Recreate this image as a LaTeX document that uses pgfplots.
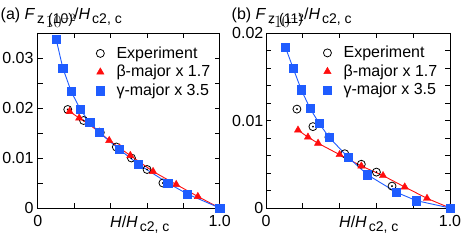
\documentclass[border=0pt]{standalone}
\usepackage{fontspec}
\setmainfont{Liberation Sans}
\usepackage{pgfplots}
\pgfplotsset{compat=1.18}
\usepackage{pgfplotstable}
\definecolor{myblue}{rgb}{0.12,0.36,1}
\definecolor{myred}{rgb}{1,0.05,0.05}
\newcommand{\sub}[1]{\kern2pt\raisebox{-3.5pt}{\fontsize{14}{15}\selectfont #1}\kern1.2pt}
\newcommand{\bigf}{\fontsize{16}{19}\selectfont}

\pgfplotstableread{
x y
0.165 0.0197
0.252 0.0175
0.344 0.0151
0.432 0.0122
0.515 0.0100
0.601 0.0077
0.688 0.0050
}\expA
\pgfplotstableread{
x y
0.175 0.0193
0.228 0.0180
0.283 0.0167
0.338 0.0152
0.393 0.0135
0.450 0.0120
0.509 0.0105
0.634 0.0073
0.761 0.0047
0.880 0.0023
1.000 0.0000
}\betA
\pgfplotstableread{
x y
0.101 0.0338
0.138 0.0280
0.184 0.0233
0.233 0.0198
0.285 0.0171
0.338 0.0151
0.449 0.0117
0.551 0.0088
0.715 0.0050
0.822 0.0028
1.000 0.0000
}\gamA
\pgfplotstableread{
x y
0.168 0.0113
0.255 0.0093
0.342 0.0081
0.428 0.0062
0.518 0.0050
0.600 0.0041
0.685 0.0025
}\expB
\pgfplotstableread{
x y
0.174 0.0089
0.228 0.0081
0.283 0.0074
0.400 0.0061
0.518 0.0048
0.636 0.0037
0.754 0.0024
0.875 0.0011
1.000 0.0000
}\betB
\pgfplotstableread{
x y
0.105 0.0184
0.147 0.0160
0.192 0.0135
0.239 0.0114
0.288 0.0097
0.342 0.0081
0.446 0.0058
0.551 0.0038
0.708 0.0018
0.817 0.00084
1.000 0.0000
}\gamB

\pgfplotsset{
  panel/.style={
    scale only axis, height=175pt,
    xmin=0, xmax=1, ymin=0,
    axis line style={line width=0.8pt},
    every tick/.style={black, line width=0.8pt},
    tick align=inside,
    major tick length=5pt, minor tick length=5pt,
    xtick={0,0.2,0.4,0.6,0.8,1},
    xticklabels={0,,,,,1.0},
    ticklabel style={font=\bigf},
    xticklabel style={inner xsep=0pt, inner ysep=7pt},
    yticklabel style={inner ysep=0pt},
    legend image code/.code={\draw[##1] plot coordinates {(0pt,0pt)};},
    legend cell align=left,
    legend style={draw=none, fill=none, inner sep=0pt, font=\bigf,
      row sep=1pt, column sep=0pt,
      nodes={inner sep=2pt, text depth=0.2em},
      /tikz/every odd column/.append style={column sep=10pt}},
  },
  expstyle/.style={only marks, mark=o, mark size=4pt, black, mark options={line width=0.8pt}},
  dotstyle/.style={only marks, mark=*, mark size=0.7pt, black, forget plot},
  betline/.style={myred, line width=0.9pt, no marks, forget plot},
  betmark/.style={only marks, mark=triangle*, mark size=4.2pt, myred},
  gamline/.style={myblue, line width=0.9pt, no marks, forget plot},
  gammark/.style={only marks, mark=square*, mark size=4.2pt, myblue},
}

\begin{document}
\begin{tikzpicture}
\useasboundingbox (0pt,0pt) rectangle (463pt,245pt);

\begin{axis}[panel,
  at={(37.7pt,37pt)}, anchor=south west, width=182pt,
  ymax=0.035,
  ytick={0,0.01,0.02,0.03}, yticklabels={0,0.01,0.02,0.03},
  minor ytick={0.005,0.015,0.025,0.035},
  yticklabel style={inner xsep=4pt},
  legend style={at={(axis cs:0.32,0.0272)}, anchor=west},
]
\addplot[expstyle] table {\expA};
\addlegendentry{Experiment}
\addplot[dotstyle] table {\expA};
\addplot[betline] table {\betA};
\addplot[betmark] table {\betA};
\addlegendentry{β-major x 1.7}
\addplot[gamline] table {\gamA};
\addplot[gammark] table {\gamA};
\addlegendentry{γ-major x 3.5}
\end{axis}

\begin{axis}[panel,
  at={(266pt,37pt)}, anchor=south west, width=184pt,
  ymax=0.02,
  ytick={0,0.01,0.02}, yticklabels={0,0.01,0.02},
  minor ytick={0.002,0.004,0.006,0.008,0.012,0.014,0.016,0.018},
  yticklabel style={inner xsep=2.5pt},
  legend style={at={(axis cs:0.31,0.0156)}, anchor=west},
]
\addplot[expstyle] table {\expB};
\addlegendentry{Experiment}
\addplot[dotstyle] table {\expB};
\addplot[betline] table {\betB};
\addplot[betmark] table {\betB};
\addlegendentry{β-major x 1.7}
\addplot[gamline] table {\gamB};
\addplot[gammark] table {\gamB};
\addlegendentry{γ-major x 3.5}
\end{axis}

\node[anchor=base west, inner sep=0pt, font=\bigf] at (0.5pt,225pt)
  {(a) \textit{F}\sub{z\ (10)}/\textit{H}\sub{c2, c}};
\node[anchor=base west, inner sep=0pt, font=\bigf] at (231.5pt,225pt)
  {(b) \textit{F}\sub{z\ (11)}/\textit{H}\sub{c2, c}};
\node[anchor=base west, inner sep=0pt, font=\bigf] at (110pt,17pt)
  {\textit{H}/\textit{H}\sub{c2, c}};
\node[anchor=base west, inner sep=0pt, font=\bigf] at (339pt,17pt)
  {\textit{H}/\textit{H}\sub{c2, c}};
\end{tikzpicture}
\end{document}
